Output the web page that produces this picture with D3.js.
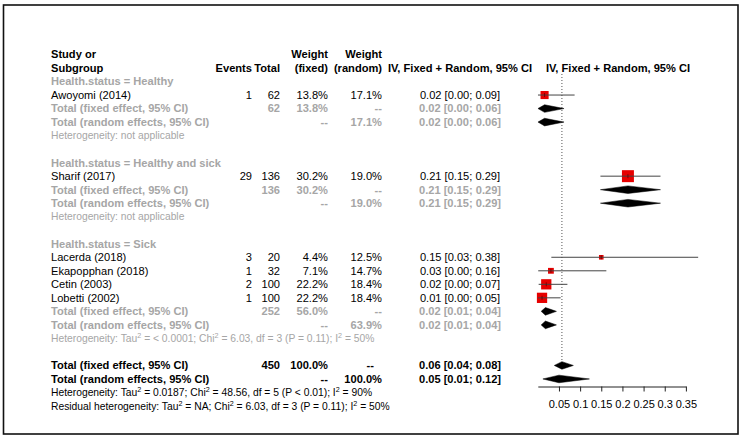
<!DOCTYPE html>
<html><head><meta charset="utf-8">
<script src="https://cdn.jsdelivr.net/npm/d3@7"></script>
<style>
html,body{margin:0;padding:0;background:#fff;}
text{font-family:"Liberation Sans",Arial,Helvetica,sans-serif;}
</style></head>
<body>
<svg id="chart" width="746" height="439"></svg>
<script>
// ---------- data ----------
const groupLabels = ["Health.status = Healthy", "Health.status = Healthy and sick", "Health.status = Sick"];
const studyNames = ["Awoyomi (2014)", "Sharif (2017)", "Lacerda (2018)", "Ekapopphan (2018)", "Cetin (2003)", "Lobetti (2002)"];
const studyGroup = [0, 1, 2, 2, 2, 2];
const events = [1, 29, 3, 1, 2, 1];
const totals = [62, 136, 20, 32, 100, 100];
const weightFixed = [13.8, 30.2, 4.4, 7.1, 22.2, 22.2];
const weightRandom = [17.1, 19.0, 12.5, 14.7, 18.4, 18.4];
const estimate = [0.016, 0.213, 0.15, 0.031, 0.02, 0.01];
const ciLow = [0.0004, 0.148, 0.032, 0.001, 0.002, 0.0003];
const ciHigh = [0.087, 0.290, 0.379, 0.162, 0.070, 0.054];

const subTotalN = [62, 136, 252];
const subWeightFixed = [13.8, 30.2, 56.0];
const subWeightRandom = [17.1, 19.0, 63.9];
const subFixedEst = [0.016, 0.213, 0.018];
const subFixedLow = [0.0004, 0.148, 0.008];
const subFixedHigh = [0.062, 0.290, 0.044];
const subRandomEst = [0.016, 0.213, 0.018];
const subRandomLow = [0.0004, 0.148, 0.008];
const subRandomHigh = [0.062, 0.290, 0.044];
const subHetText = [
  "Heterogeneity: not applicable",
  "Heterogeneity: not applicable",
  "Heterogeneity: Tau^2 = < 0.0001; Chi^2 = 6.03, df = 3 (P = 0.11); I^2 = 50%"
];

const overallN = 450;
const overallEst = [0.057, 0.050];      // fixed, random
const overallLow = [0.039, 0.012];
const overallHigh = [0.084, 0.122];
const overallHet = "Heterogeneity: Tau^2 = 0.0187; Chi^2 = 48.56, df = 5 (P < 0.01); I^2 = 90%";
const residualHet = "Residual heterogeneity: Tau^2 = NA; Chi^2 = 6.03, df = 3 (P = 0.11); I^2 = 50%";
const refLine = 0.057;
const axisTicks = [0.05, 0.1, 0.15, 0.2, 0.25, 0.3, 0.35];
const tickLabels = ["0.05", "0.1", "0.15", "0.2", "0.25", "0.3", "0.35"];

// ---------- layout ----------
const svg = d3.select("#chart");
const GREY = "#a6a6a6";
const FS = 11.1, FS_SMALL = 10.3;
const x = d3.scaleLinear().domain([0, 0.35]).range([537.8, 685.9]);
const rowY = d3.scaleLinear().domain([0, 25]).range([68, 406]);
const colLeft = 51, colEvents = 252, colTotal = 280, colWF = 328, colWR = 382, colEff = 460, colPlot = 618;
const f2 = d3.format(".2f");
const ciText = (e, l, h) => `${f2(e)} [${f2(l)}; ${f2(h)}]`;
const pct = v => d3.format(".1f")(v) + "%";

svg.append("rect").attr("x", 3.5).attr("y", 5).attr("width", 734.5).attr("height", 429)
  .attr("fill", "none").attr("stroke", "#111").attr("stroke-width", 1.6);

function txt(xp, row, s, opts = {}) {
  const t = svg.append("text").attr("x", xp).attr("y", rowY(row)).attr("dy", "0.35em")
    .attr("font-size", opts.size || FS)
    .attr("font-weight", opts.bold ? "bold" : "normal")
    .attr("fill", opts.color || "#000")
    .attr("text-anchor", opts.anchor || "start");
  const parts = String(s).split("^2");
  parts.forEach((p, i) => {
    if (i > 0) {
      t.append("tspan").attr("font-size", (opts.size || FS) * 0.7).attr("dy", -4).text("2");
      t.append("tspan").attr("dy", 4).text(p);
    } else t.append("tspan").text(p);
  });
  return t;
}

// header
txt(colLeft, -1, "Study or", {bold: true});
txt(colLeft, 0, "Subgroup", {bold: true});
txt(colEvents, 0, "Events", {bold: true, anchor: "end"});
txt(colTotal, 0, "Total", {bold: true, anchor: "end"});
txt(colWF, -1, "Weight", {bold: true, anchor: "end"});
txt(colWF, 0, "(fixed)", {bold: true, anchor: "end"});
txt(colWR, -1, "Weight", {bold: true, anchor: "end"});
txt(colWR, 0, "(random)", {bold: true, anchor: "end"});
txt(colEff, 0, "IV, Fixed + Random, 95% CI", {bold: true, anchor: "middle"});
txt(colPlot, 0, "IV, Fixed + Random, 95% CI", {bold: true, anchor: "middle"});

// reference dotted line
svg.append("line").attr("x1", x(refLine)).attr("x2", x(refLine))
  .attr("y1", 74).attr("y2", rowY(22) - 3)
  .attr("stroke", "#555").attr("stroke-width", 1).attr("stroke-dasharray", "1,2");

const plot = svg.append("g");
function diamond(row, e, l, h, color) {
  const yc = rowY(row), hh = 3.8;
  plot.append("path")
    .attr("d", `M${x(l)},${yc}L${x(e)},${yc - hh}L${x(h)},${yc}L${x(e)},${yc + hh}Z`)
    .attr("fill", color || "#000").attr("stroke", color || "#000").attr("stroke-width", 0.5);
}

let row = 1;
groupLabels.forEach((g, gi) => {
  txt(colLeft, row, g, {bold: true, color: GREY});
  row++;
  studyNames.forEach((name, i) => {
    if (studyGroup[i] !== gi) return;
    txt(colLeft, row, name);
    txt(colEvents, row, events[i], {anchor: "end"});
    txt(colTotal, row, totals[i], {anchor: "end"});
    txt(colWF, row, pct(weightFixed[i]), {anchor: "end"});
    txt(colWR, row, pct(weightRandom[i]), {anchor: "end"});
    txt(colEff, row, ciText(estimate[i], ciLow[i], ciHigh[i]), {anchor: "middle"});
    const yc = rowY(row);
    const s = 2.18 * Math.sqrt(weightFixed[i]);
    plot.append("rect").attr("x", x(estimate[i]) - s / 2).attr("y", yc - s / 2)
      .attr("width", s).attr("height", s).attr("fill", "#e60000");
    plot.append("line").attr("x1", x(ciLow[i])).attr("x2", x(ciHigh[i]))
      .attr("y1", yc).attr("y2", yc).attr("stroke", "#444").attr("stroke-width", 1);
    plot.append("line").attr("x1", x(estimate[i])).attr("x2", x(estimate[i]))
      .attr("y1", yc - 2).attr("y2", yc + 2).attr("stroke", "#600").attr("stroke-width", 0.8);
    row++;
  });
  txt(colLeft, row, "Total (fixed effect, 95% CI)", {bold: true, color: GREY});
  txt(colTotal, row, subTotalN[gi], {bold: true, color: GREY, anchor: "end"});
  txt(colWF, row, pct(subWeightFixed[gi]), {bold: true, color: GREY, anchor: "end"});
  txt(colWR, row, "--", {bold: true, color: GREY, anchor: "end"});
  txt(colEff, row, ciText(subFixedEst[gi], subFixedLow[gi], subFixedHigh[gi]), {bold: true, color: GREY, anchor: "middle"});
  diamond(row, subFixedEst[gi], subFixedLow[gi], subFixedHigh[gi]);
  row++;
  txt(colLeft, row, "Total (random effects, 95% CI)", {bold: true, color: GREY});
  txt(colWF, row, "--", {bold: true, color: GREY, anchor: "end"});
  txt(colWR, row, pct(subWeightRandom[gi]), {bold: true, color: GREY, anchor: "end"});
  txt(colEff, row, ciText(subRandomEst[gi], subRandomLow[gi], subRandomHigh[gi]), {bold: true, color: GREY, anchor: "middle"});
  diamond(row, subRandomEst[gi], subRandomLow[gi], subRandomHigh[gi]);
  row++;
  txt(colLeft, row, subHetText[gi], {size: FS_SMALL, color: GREY});
  row += 2;
});

// overall
txt(colLeft, row, "Total (fixed effect, 95% CI)", {bold: true});
txt(colTotal, row, overallN, {bold: true, anchor: "end"});
txt(colWF, row, "100.0%", {bold: true, anchor: "end"});
txt(colWR - 8, row, "--", {bold: true, anchor: "end"});
txt(colEff, row, ciText(overallEst[0], overallLow[0], overallHigh[0]), {bold: true, anchor: "middle"});
diamond(row, overallEst[0], overallLow[0], overallHigh[0]);
row++;
txt(colLeft, row, "Total (random effects, 95% CI)", {bold: true});
txt(colWF, row, "--", {bold: true, anchor: "end"});
txt(colWR, row, "100.0%", {bold: true, anchor: "end"});
txt(colEff, row, ciText(overallEst[1], overallLow[1], overallHigh[1]), {bold: true, anchor: "middle"});
diamond(row, overallEst[1], overallLow[1], overallHigh[1]);
row++;
txt(colLeft, row, overallHet, {size: FS_SMALL});
row++;
txt(colLeft, row, residualHet, {size: FS_SMALL});

// axis
const axis = d3.axisBottom(x).tickValues(axisTicks).tickFormat((d, i) => tickLabels[i])
  .tickSize(5).tickSizeOuter(0).tickPadding(9);
const ag = svg.append("g").attr("transform", "translate(0,386.5)").call(axis);
ag.select(".domain").attr("stroke", "#222");
ag.selectAll(".tick line").attr("stroke", "#222");
ag.selectAll("text").attr("font-size", 11).attr("fill", "#000")
  .attr("font-family", "'Liberation Sans',Arial,Helvetica,sans-serif");
</script>
</body></html>
